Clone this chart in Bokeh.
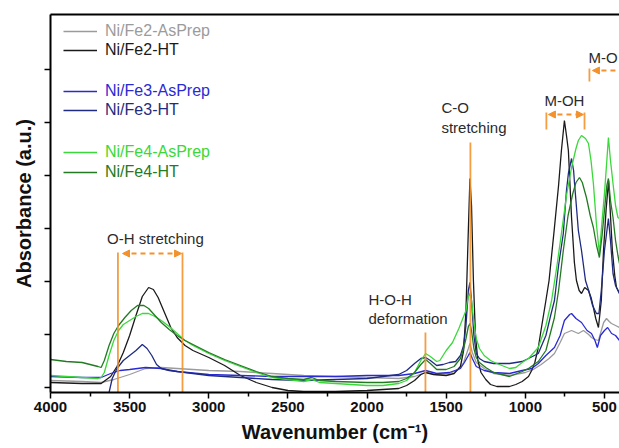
import math
from bokeh.plotting import figure
from bokeh.models import (Range1d, FixedTicker, LinearAxis, Legend, LegendItem, Label,
                          Arrow, NormalHead, CustomJSTickFormatter)
from bokeh.embed import file_html
from bokeh.resources import INLINE

# ---------------- data (wavenumber cm-1, absorbance a.u.) ----------------
fe2_asprep = [(4000,0.14),(3800,0.12),(3680,0.10),(3600,0.16),(3500,0.26),(3450,0.32),(3400,0.38),(3300,0.40),
              (3200,0.38),(3100,0.36),(3000,0.34),(2800,0.32),(2600,0.28),(2400,0.24),(2200,0.22),(2000,0.20),
              (1800,0.18),(1700,0.22),(1630,0.30),(1560,0.26),(1480,0.28),(1420,0.36),(1390,0.50),(1360,0.78),
              (1350,0.88),(1335,0.70),(1310,0.50),(1260,0.38),(1200,0.28),(1100,0.24),(1000,0.30),(950,0.36),
              (900,0.46),(850,0.58),(816,0.68),(780,0.90),(753,1.08),(708,1.14),(665,1.08),(633,1.14),(600,1.06),
              (582,1.00),(560,0.96),(538,0.94),(520,1.14),(505,1.30),(487,1.38),(470,1.32),(456,1.28),(430,1.24),
              (405,1.20)]

fe2_ht = [(4000,0.10),(3800,0.08),(3680,0.08),(3620,0.22),(3580,0.42),(3540,0.70),(3500,1.04),(3460,1.44),
          (3420,1.82),(3380,2.00),(3350,1.96),(3320,1.80),(3280,1.50),(3240,1.20),(3200,1.00),(3150,0.84),
          (3100,0.74),(3000,0.60),(2900,0.44),(2800,0.24),(2700,0.10),(2600,0.00),(2500,-0.06),(2400,-0.08),
          (2200,-0.08),(2000,-0.06),(1800,-0.02),(1750,0.04),(1700,0.14),(1660,0.26),(1630,0.30),(1580,0.26),
          (1500,0.24),(1450,0.28),(1410,0.42),(1390,0.74),(1375,1.54),(1362,2.94),(1350,4.18),(1340,3.64),
          (1328,2.14),(1315,1.04),(1300,0.54),(1280,0.30),(1250,0.16),(1220,0.06),(1180,0.02),(1100,0.02),
          (1060,0.06),(1020,0.12),(980,0.22),(960,0.34),(940,0.50),(918,0.80),(900,1.16),(870,1.74),(850,2.14),
          (816,3.20),(790,4.04),(772,4.74),(753,5.34),(740,5.04),(728,4.74),(708,3.40),(690,2.50),(677,2.14),
          (660,1.94),(645,1.88),(625,2.00),(601,1.94),(585,1.80),(570,1.60),(555,1.38),(538,1.20),(520,1.74),
          (506,2.74),(490,3.54),(474,4.14),(462,3.44),(450,2.74),(435,2.24),(424,2.00),(405,1.88)]

fe3_asprep = [(4000,0.22),(3800,0.20),(3680,0.20),(3620,0.28),(3560,0.34),(3500,0.36),(3450,0.38),(3400,0.40),
              (3300,0.38),(3200,0.32),(3000,0.26),(2800,0.24),(2600,0.22),(2400,0.22),(2200,0.22),(2000,0.24),
              (1800,0.24),(1700,0.28),(1630,0.34),(1560,0.28),(1480,0.30),(1410,0.38),(1385,0.50),(1360,0.64),
              (1350,0.70),(1335,0.58),(1310,0.42),(1260,0.34),(1200,0.30),(1100,0.28),(1020,0.34),(960,0.38),
              (918,0.48),(870,0.64),(816,0.80),(780,1.04),(753,1.34),(720,1.46),(708,1.48),(680,1.38),(645,1.30),
              (610,1.14),(582,1.08),(560,0.94),(545,0.80),(525,1.04),(500,1.14),(480,1.20),(455,1.08),(430,1.04),
              (405,0.94)]

fe3_ht = [(4000,-0.46),(3700,-0.46),(3650,-0.26),(3630,-0.10),(3610,0.18),(3580,0.38),(3540,0.54),(3500,0.64),
          (3460,0.74),(3420,0.86),(3390,0.78),(3360,0.64),(3330,0.46),(3300,0.38),(3250,0.34),(3200,0.32),
          (3100,0.28),(3000,0.24),(2800,0.20),(2600,0.16),(2400,0.14),(2200,0.16),(2000,0.18),(1800,0.26),
          (1750,0.34),(1700,0.48),(1660,0.58),(1630,0.60),(1600,0.54),(1560,0.44),(1520,0.46),(1480,0.50),
          (1440,0.52),(1410,0.64),(1390,0.84),(1375,1.24),(1360,1.94),(1350,2.10),(1340,1.74),(1325,1.04),
          (1310,0.68),(1290,0.58),(1260,0.52),(1200,0.48),(1100,0.48),(1020,0.52),(980,0.58),(918,0.68),
          (870,1.04),(840,1.44),(816,1.74),(790,2.44),(760,3.08),(740,3.94),(728,4.28),(708,4.58),(695,4.34),
          (689,4.08),(665,3.14),(645,2.74),(620,2.14),(600,1.94),(575,1.64),(551,1.48),(535,1.48),(520,1.94),
          (500,2.74),(475,3.38),(462,2.94),(446,2.28),(430,2.04),(405,1.88)]

fe4_asprep = [(4000,0.24),(3900,0.22),(3800,0.20),(3700,0.18),(3680,0.20),(3660,0.30),(3630,0.64),(3600,0.94),
              (3570,1.14),(3540,1.26),(3500,1.34),(3460,1.42),(3420,1.48),(3380,1.48),(3340,1.42),(3300,1.34),
              (3250,1.22),(3200,1.08),(3150,0.94),(3100,0.84),(3000,0.68),(2900,0.54),(2800,0.42),(2700,0.30),
              (2600,0.20),(2500,0.16),(2400,0.12),(2350,0.16),(2300,0.10),(2200,0.08),(2000,0.04),(1900,0.04),
              (1800,0.08),(1750,0.14),(1700,0.30),(1660,0.54),(1630,0.68),(1600,0.62),(1560,0.52),(1540,0.54),
              (1500,0.74),(1460,0.90),(1420,1.18),(1400,1.34),(1375,1.54),(1362,1.80),(1350,1.88),(1340,1.74),
              (1328,1.38),(1310,0.98),(1290,0.78),(1260,0.64),(1220,0.54),(1180,0.48),(1100,0.38),(1060,0.40),
              (1020,0.50),(980,0.58),(918,0.80),(870,1.24),(834,1.74),(800,2.44),(772,3.08),(740,3.84),(708,4.40),
              (680,4.78),(665,4.94),(645,5.04),(620,4.98),(601,4.88),(585,4.54),(570,4.08),(550,3.24),(532,2.68),
              (515,3.34),(500,3.88),(485,4.54),(475,5.00),(462,4.54),(446,4.08),(430,3.64),(415,3.40),(405,3.38)]

fe4_ht = [(4000,0.56),(3900,0.52),(3800,0.50),(3700,0.42),(3680,0.40),(3660,0.54),(3630,0.84),(3600,1.08),
          (3570,1.24),(3530,1.40),(3490,1.54),(3450,1.64),(3410,1.64),(3380,1.58),(3340,1.44),(3300,1.30),
          (3250,1.16),(3200,1.04),(3150,0.94),(3100,0.86),(3000,0.70),(2900,0.56),(2800,0.44),(2700,0.32),
          (2600,0.22),(2500,0.18),(2400,0.16),(2350,0.20),(2300,0.14),(2200,0.12),(2000,0.10),(1900,0.10),
          (1800,0.12),(1750,0.18),(1700,0.30),(1660,0.46),(1630,0.56),(1600,0.48),(1560,0.36),(1500,0.36),
          (1450,0.42),(1410,0.58),(1390,0.78),(1375,0.98),(1360,1.22),(1350,1.28),(1340,1.14),(1325,0.78),
          (1310,0.60),(1290,0.50),(1250,0.40),(1200,0.30),(1100,0.22),(1020,0.32),(980,0.38),(918,0.52),
          (870,0.74),(816,1.40),(790,1.94),(760,2.74),(730,3.44),(700,3.88),(680,4.10),(658,4.20),(640,4.10),
          (614,3.80),(590,3.44),(570,3.20),(550,2.84),(532,2.60),(515,3.04),(500,3.54),(485,4.04),(475,4.18),
          (462,3.74),(446,3.40),(430,2.94),(415,2.64),(405,2.48)]

series_names = ["Ni/Fe2-AsPrep", "Ni/Fe2-HT", "Ni/Fe3-AsPrep", "Ni/Fe3-HT", "Ni/Fe4-AsPrep", "Ni/Fe4-HT"]
series_data = [fe2_asprep, fe2_ht, fe3_asprep, fe3_ht, fe4_asprep, fe4_ht]
series_colors = ["#9b9b9b", "#1a1a1a", "#2a2ad4", "#1f2b80", "#3ad83a", "#237a23"]

# band markers
band_wn = [3574, 3166, 1631, 1347, 867, 626, 595]
band_top = [2.70, 2.70, 1.10, 4.90, 5.50, 5.50, 6.38]
band_bottom = [-0.10, -0.10, -0.10, -0.10, 5.16, 5.16, 6.12]

arrow_start_wn = [3545, 854, 576]
arrow_end_wn = [3172, 633, 250]
arrow_y = [2.68, 5.46, 6.34]

ann_text = ["O-H stretching", "H-O-H", "deformation", "C-O", "stretching", "M-OH", "M-O"]
ann_wn = [3337, 1991, 1991, 1530, 1530, 753, 601]
ann_y = [2.98, 1.76, 1.38, 5.60, 5.20, 5.74, 6.60]
ann_align = ["center", "left", "left", "left", "left", "center", "left"]

x_major_ticks = [4000, 3500, 3000, 2500, 2000, 1500, 1000, 500]
x_minor_ticks = [3750, 3250, 2750, 2250, 1750, 1250, 750]
y_ticks = [0, 1.06, 2.12, 3.18, 4.24, 5.30, 6.36]

# legend row positions (screen px from frame bottom)
legend_rows = [351, 332, 291, 272, 230, 210]

FONT = "Liberation Sans"
ORANGE = "#f3922c"

p = figure(width=619, height=448, x_range=Range1d(4000, 405), y_range=Range1d(-0.10, 7.46),
           output_backend="svg", toolbar_location=None,
           min_border_left=50, min_border_right=0, min_border_top=14, min_border_bottom=56)
p.outline_line_color = None
p.grid.visible = False
p.background_fill_color = "white"

renderers = []
for name, data, col in zip(series_names, series_data, series_colors):
    xs = [d[0] for d in data]
    ys = [d[1] for d in data]
    r = p.line(xs, ys, line_color=col, line_width=1.3)
    renderers.append(r)

p.segment(x0=band_wn, y0=band_bottom, x1=band_wn, y1=band_top, line_color=ORANGE, line_width=1.8, line_alpha=0.9)

for xs_, xe_, ya_ in zip(arrow_start_wn, arrow_end_wn, arrow_y):
    p.add_layout(Arrow(start=NormalHead(size=7, fill_color=ORANGE, line_color=ORANGE),
                       end=NormalHead(size=7, fill_color=ORANGE, line_color=ORANGE),
                       x_start=xs_, y_start=ya_, x_end=xe_, y_end=ya_,
                       line_color=ORANGE, line_width=1.8, line_dash="5 4"))

for t, xw, yv, al in zip(ann_text, ann_wn, ann_y, ann_align):
    p.add_layout(Label(x=xw, y=yv, text=t, text_font=FONT, text_font_size="15px", text_color="#2b2b2b",
                       text_align=al, text_baseline="middle"))

# axes
xa = p.xaxis[0]
xa.ticker = FixedTicker(ticks=x_major_ticks, minor_ticks=x_minor_ticks)
xa.axis_label = "Wavenumber (cm\u207b\u00b9)"
xa.axis_label_text_font = FONT
xa.axis_label_text_font_size = "20px"
xa.axis_label_text_font_style = "bold"
xa.axis_label_text_color = "#111111"
xa.axis_label_standoff = 6
xa.major_label_text_font = FONT
xa.major_label_text_font_size = "15px"
xa.major_label_text_font_style = "bold"
xa.major_label_text_color = "#111111"
xa.major_label_standoff = 3
xa.axis_line_width = 2
xa.major_tick_out = 6
xa.major_tick_in = 0
xa.minor_tick_out = 4
xa.minor_tick_in = 0
xa.major_tick_line_width = 1.5
xa.minor_tick_line_width = 1.5

ya = p.yaxis[0]
ya.ticker = FixedTicker(ticks=y_ticks, minor_ticks=[])
ya.formatter = CustomJSTickFormatter(code="return '';")
ya.axis_label = "Absorbance (a.u.)"
ya.axis_label_text_font = FONT
ya.axis_label_text_font_size = "20px"
ya.axis_label_text_font_style = "bold"
ya.axis_label_text_color = "#111111"
ya.axis_label_standoff = 10
ya.axis_line_width = 2
ya.major_tick_out = 6
ya.major_tick_in = 0
ya.major_tick_line_width = 1.5
ya.minor_tick_out = 0
ya.minor_tick_in = 0
ya.major_label_standoff = 0

top = LinearAxis(ticker=FixedTicker(ticks=[]), axis_line_width=2, major_tick_out=0, major_tick_in=0,
                 minor_tick_out=0, minor_tick_in=0)
p.add_layout(top, "above")

for name, r, col, vy in zip(series_names, renderers, series_colors, legend_rows):
    leg = Legend(items=[LegendItem(label=name, renderers=[r])], location=(13, vy),
                 background_fill_alpha=0, border_line_alpha=0, padding=0, margin=0, spacing=0,
                 glyph_width=34, glyph_height=20, label_height=20, label_standoff=8,
                 label_text_font=FONT, label_text_font_size="16px", label_text_color=col)
    p.add_layout(leg)

open("out.html", "w").write(file_html(p, INLINE))
